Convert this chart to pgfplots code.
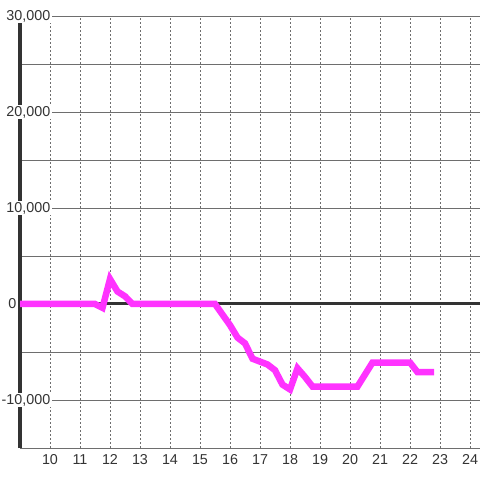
\documentclass[border=0pt]{standalone}
\usepackage{fontspec}
\setmainfont{Liberation Sans}
\usepackage{pgfplots}
\pgfplotsset{compat=1.18}
\definecolor{mag}{RGB}{255,51,255}
\definecolor{txt}{RGB}{51,51,51}
\definecolor{grd}{RGB}{110,110,110}
\begin{document}
\begin{tikzpicture}
\begin{axis}[
  set layers,
  at={(0,0)}, anchor=south west,
  scale only axis, width=460bp, height=432bp,
  xmin=9, xmax=24.3333, ymin=-15000, ymax=30000,
  xtick={10,...,24},
  ytick={-10000,10000,20000,30000},
  minor ytick={-15000,-5000,5000,15000,25000},
  extra y ticks={0},
  extra y tick style={y grid style={txt, line width=3bp, solid},
    yticklabel style={xshift=-34bp, fill=none}},
  scaled y ticks=false,
  xmajorgrids, ymajorgrids, yminorgrids,
  x grid style={grd, line width=0.8bp, dash pattern=on 2bp off 2bp},
  y grid style={grd, line width=0.8bp},
  minor y grid style={grd, line width=0.8bp},
  axis x line*=bottom, axis y line*=left,
  x axis line style={grd, line width=1bp},
  y axis line style={txt, line width=3bp},
  tick style={draw=none},
  major tick length=0pt, minor tick length=0pt,
  /pgf/number format/assume math mode=true,
  /pgf/number format/1000 sep={,},
  /pgf/number format/fixed,
  xticklabel style={font=\Large, text=txt, anchor=north, yshift=-3bp},
  yticklabel style={font=\Large, text=txt, anchor=east, xshift=32bp, fill=white, inner sep=1.5bp},
]
\addplot[mag, line width=6.5bp] coordinates {
(9,0) (11.5,0) (11.75,-400) (12,2600) (12.25,1300) (12.5,800) (12.75,0)
(15.5,0) (15.75,-1100) (16,-2200) (16.25,-3500) (16.5,-4100) (16.75,-5700)
(17,-6000) (17.25,-6300) (17.5,-6900) (17.75,-8400) (18,-8900) (18.25,-6700)
(18.5,-7600) (18.75,-8600) (20.25,-8600) (20.75,-6100) (22,-6100)
(22.25,-7100) (22.8,-7100)
};
\end{axis}
\pgfresetboundingbox
\path[use as bounding box] (-20bp,-32bp) rectangle (460bp,448bp);
\end{tikzpicture}
\end{document}
